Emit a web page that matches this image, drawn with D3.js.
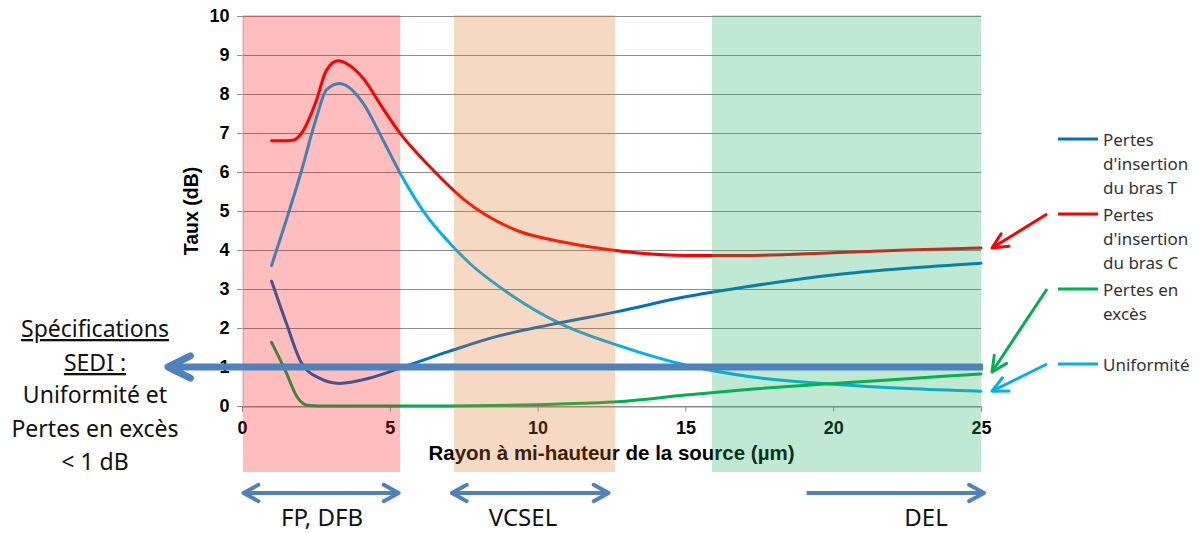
<!DOCTYPE html>
<html>
<head>
<meta charset="utf-8">
<script src="https://cdn.jsdelivr.net/npm/d3@7"></script>
<style>
  body { margin: 0; background: #fff; }
  svg { display: block; }
  .tick text { font-family: "Liberation Sans", Arial, sans-serif; font-weight: bold; font-size: 18px; fill: #000; }
</style>
</head>
<body>
<svg id="chart" width="1199" height="533"></svg>
<script>
// ---- data ----
var xTicks = [0, 5, 10, 15, 20, 25];
var yTicks = [0, 1, 2, 3, 4, 5, 6, 7, 8, 9, 10];

var seriesNames = ["Pertes d'insertion du bras T", "Pertes d'insertion du bras C", "Pertes en excès", "Uniformité"];

var brasT_x = [1, 1.5, 2, 2.6, 3.3, 4.3, 5.35, 7, 8.5, 10.4, 12.7, 15, 17, 20, 22.5, 25];
var brasT_y = [3.2, 2.12, 1.12, 0.72, 0.58, 0.71, 0.97, 1.4, 1.76, 2.08, 2.42, 2.8, 3.05, 3.36, 3.53, 3.66];

var brasC_x = [1, 1.5, 1.75, 2, 2.5, 2.85, 3.25, 3.6, 4.1, 4.75, 5.35, 6.35, 7.5, 9.3, 10.9, 12.5, 15, 17, 20, 22.5, 25];
var brasC_y = [6.8, 6.8, 6.82, 6.98, 7.8, 8.6, 8.85, 8.75, 8.4, 7.65, 6.99, 6.14, 5.3, 4.5, 4.2, 4.0, 3.86, 3.86, 3.93, 4.0, 4.05];

var exces_x = [1, 1.5, 1.85, 2.2, 2.6, 3, 5, 7, 8.5, 10, 11.5, 12.7, 15, 17.2, 20, 22.5, 25];
var exces_y = [1.63, 0.85, 0.25, 0.02, 0, 0, 0, 0, 0.01, 0.03, 0.07, 0.11, 0.28, 0.43, 0.58, 0.7, 0.82];

var unif_x = [1, 1.5, 2, 2.5, 2.85, 3.3, 3.6, 4.1, 4.75, 5.35, 6.35, 7, 7.7, 9, 10.75, 12.7, 15, 17.2, 20, 22.5, 25];
var unif_y = [3.6, 4.77, 6.0, 7.35, 8.1, 8.27, 8.18, 7.76, 6.85, 5.97, 4.77, 4.2, 3.66, 2.9, 2.12, 1.56, 1.05, 0.75, 0.56, 0.45, 0.38];

// source families: shaded bands and arrows under the axis
var bandNames = ["FP, DFB", "VCSEL", "DEL"];
var bandStart = [0.03, 7.17, 15.9];
var bandEnd = [5.35, 12.62, 25];
var arrowStart = [0.05, 7.1, 19.1];
var arrowEnd = [5.3, 12.4, 25.1];
var arrowBothWays = [true, true, false];

var specLimit = 1; // dB
var specLines = ["Spécifications", "SEDI :", "Uniformité et", "Pertes en excès", "< 1 dB"];

// ---- styles ----
var seriesColors = ["#0070C0", "#FF0000", "#00B050", "#00B0F0"];
var bandFill = ["rgba(255,0,0,0.26)", "rgba(222,114,29,0.27)", "rgba(26,176,98,0.28)"];
var annotBlue = "#4F81BD";
var textFont = "'Noto Sans', 'Open Sans', sans-serif";
var boldFont = "'Liberation Sans', Arial, sans-serif";

var svg = d3.select("#chart");

var x = d3.scaleLinear().domain([0, 25]).range([242, 981]);
var y = d3.scaleLinear().domain([0, 10]).range([406, 16]);

// gridlines
svg.append("g")
  .selectAll("line")
  .data(yTicks)
  .enter()
  .append("line")
  .attr("x1", x(0) - 5)
  .attr("x2", x(25))
  .attr("y1", function (d) { return y(d) + 0.5; })
  .attr("y2", function (d) { return y(d) + 0.5; })
  .attr("stroke", "#8c8c8c")
  .attr("stroke-width", 1);

// y axis
var yAxis = svg.append("g")
  .attr("transform", "translate(" + (x(0) + 0.5) + ",0)")
  .call(d3.axisLeft(y).tickValues(yTicks).tickSize(0).tickPadding(13));
yAxis.select(".domain").attr("stroke", "#c0c0c0");

// x axis
var xAxis = svg.append("g")
  .attr("transform", "translate(0," + (y(0) + 0.5) + ")")
  .call(d3.axisBottom(x).tickValues(xTicks).tickSize(5).tickPadding(10));
xAxis.select(".domain").attr("stroke", "#8c8c8c");
xAxis.selectAll(".tick line").attr("stroke", "#8c8c8c");

// axis titles
svg.append("text")
  .attr("x", (x(0) + x(25)) / 2)
  .attr("y", 460)
  .attr("text-anchor", "middle")
  .style("font-family", boldFont)
  .style("font-weight", "bold")
  .style("font-size", "20.5px")
  .text("Rayon à mi-hauteur de la source (µm)");

svg.append("text")
  .attr("transform", "translate(198," + y(5) + ") rotate(-90)")
  .attr("text-anchor", "middle")
  .style("font-family", boldFont)
  .style("font-weight", "bold")
  .style("font-size", "19.5px")
  .text("Taux (dB)");

// curves
var line = d3.line()
  .x(function (d) { return x(d[0]); })
  .y(function (d) { return y(d[1]); })
  .curve(d3.curveMonotoneX);

var seriesX = [brasT_x, brasC_x, exces_x, unif_x];
var seriesY = [brasT_y, brasC_y, exces_y, unif_y];
var seriesData = seriesX.map(function (xs, i) {
  return xs.map(function (v, j) { return [v, seriesY[i][j]]; });
});

// draw order: uniformity, T, excess, C (C on top)
var drawOrder = [3, 0, 2, 1];
svg.append("g")
  .selectAll("path")
  .data(drawOrder)
  .enter()
  .append("path")
  .attr("d", function (i) { return line(seriesData[i]); })
  .attr("fill", "none")
  .attr("stroke", function (i) { return seriesColors[i]; })
  .attr("stroke-width", 3)
  .attr("stroke-linecap", "round");

// transparent bands over everything of the plot
svg.append("g")
  .selectAll("rect")
  .data(bandNames)
  .enter()
  .append("rect")
  .attr("x", function (d, i) { return x(bandStart[i]); })
  .attr("width", function (d, i) { return x(bandEnd[i]) - x(bandStart[i]); })
  .attr("y", 15)
  .attr("height", 457)
  .attr("fill", function (d, i) { return bandFill[i]; });

// helper: open V arrow head
function arrowHead(g, tipX, tipY, angle, len, spread, color, width) {
  var a1 = angle + Math.PI - spread, a2 = angle + Math.PI + spread;
  g.append("polyline")
    .attr("points", [
      [tipX + len * Math.cos(a1), tipY + len * Math.sin(a1)],
      [tipX, tipY],
      [tipX + len * Math.cos(a2), tipY + len * Math.sin(a2)]
    ].map(function (p) { return p.join(","); }).join(" "))
    .attr("fill", "none")
    .attr("stroke", color)
    .attr("stroke-width", width)
    .attr("stroke-linecap", "round")
    .attr("stroke-linejoin", "round");
}

function arrow(g, x1, y1, x2, y2, color, width, len, spread, both) {
  g.append("line")
    .attr("x1", x1).attr("y1", y1).attr("x2", x2).attr("y2", y2)
    .attr("stroke", color).attr("stroke-width", width).attr("stroke-linecap", "butt");
  var ang = Math.atan2(y2 - y1, x2 - x1);
  arrowHead(g, x2, y2, ang, len, spread, color, width);
  if (both) arrowHead(g, x1, y1, ang + Math.PI, len, spread, color, width);
}

// spec limit arrow (1 dB)
var ann = svg.append("g");
arrow(ann, x(25) + 2, y(specLimit), 168, y(specLimit), annotBlue, 7, 25, 0.46, false);

// bottom arrows and labels
bandNames.forEach(function (name, i) {
  arrow(ann, x(arrowStart[i]), 493, x(arrowEnd[i]), 493, annotBlue, 4, 17, 0.5, arrowBothWays[i]);
});
var labelCenter = [322, 523, 926];
ann.selectAll("text.band")
  .data(bandNames)
  .enter()
  .append("text")
  .attr("class", "band")
  .attr("x", function (d, i) { return labelCenter[i]; })
  .attr("y", 526)
  .attr("text-anchor", "middle")
  .style("font-family", textFont)
  .style("font-size", "24px")
  .style("fill", "#111")
  .text(function (d) { return d; });

// left annotation
var specY = [337, 371, 403, 437, 470];
ann.selectAll("text.spec")
  .data(specLines)
  .enter()
  .append("text")
  .attr("class", "spec")
  .attr("x", 95)
  .attr("y", function (d, i) { return specY[i]; })
  .attr("text-anchor", "middle")
  .style("font-family", textFont)
  .style("font-size", "23px")
  .style("fill", "#111")
  .style("text-decoration", function (d, i) { return i < 2 ? "underline" : "none"; })
  .text(function (d) { return d; });

// legend
var legendLines = [
  ["Pertes", "d'insertion", "du bras T"],
  ["Pertes", "d'insertion", "du bras C"],
  ["Pertes en", "excès"],
  ["Uniformité"]
];
var legend = svg.append("g");
legendLines.forEach(function (lines, i) {
  var ly = 139 + 75 * i;
  legend.append("line")
    .attr("x1", 1058).attr("x2", 1098)
    .attr("y1", ly).attr("y2", ly)
    .attr("stroke", seriesColors[i])
    .attr("stroke-width", 3);
  legend.append("text")
    .attr("x", 1103)
    .attr("y", ly + 6.5)
    .style("font-family", textFont)
    .style("font-size", "17px")
    .style("fill", "#333")
    .selectAll("tspan")
    .data(lines)
    .enter()
    .append("tspan")
    .attr("x", 1103)
    .attr("dy", function (d, j) { return j === 0 ? 0 : 24.3; })
    .text(function (d) { return d; });
  // pointer arrows from legend to curve ends (not for bras T)
  if (i > 0) {
    var endVal = seriesY[i][seriesY[i].length - 1];
    var tipY = i === 2 ? y(endVal) - 2 : y(endVal);
    arrow(legend, 1047, ly, x(25) + 11, tipY, seriesColors[i], 3, 17, 0.45, false);
  }
});
</script>
</body>
</html>
